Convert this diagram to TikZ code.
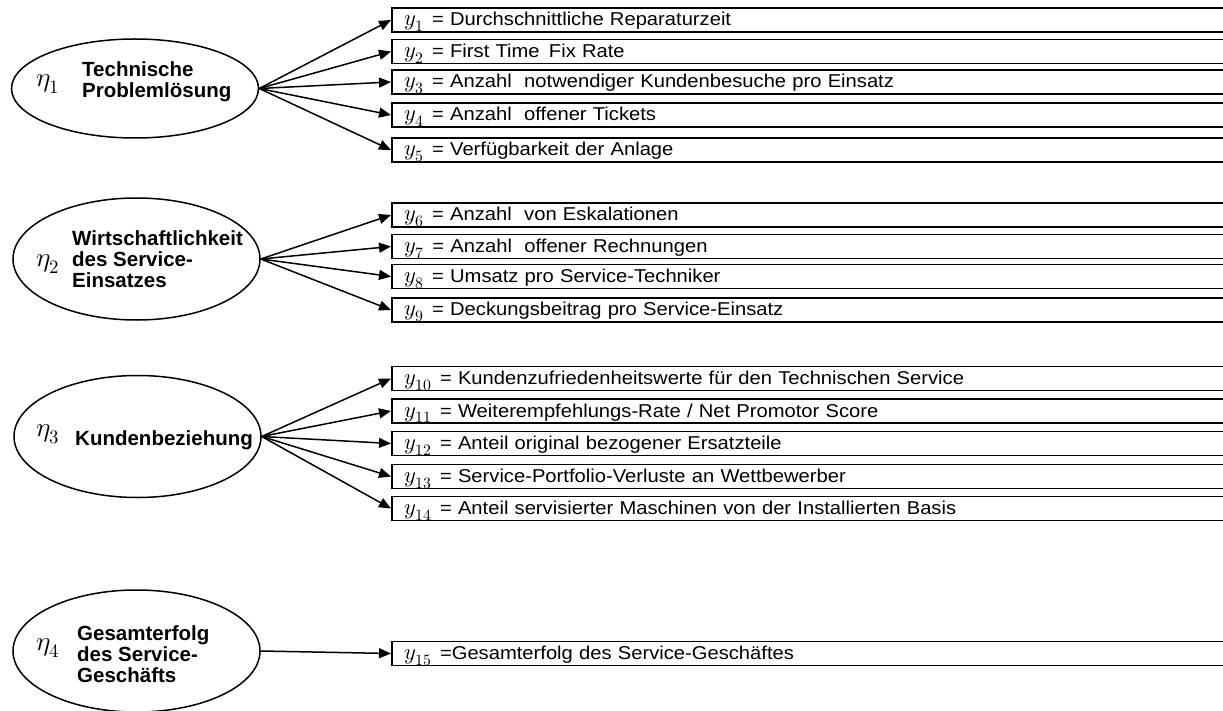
\documentclass[tikz,border=0pt]{standalone}
\usepackage{fontspec}
\usepackage{unicode-math}
\setmainfont{Liberation Sans}
\newfontfamily\itemfont{Liberation Sans}[FakeStretch=1.085]
\setmathfont{Latin Modern Math}
\usetikzlibrary{arrows.meta,shapes.geometric}
% indicator symbol y_n, set a little larger than the running text
\newcommand\yv[1]{{\fontsize{22.5}{22.5}\selectfont$y_{#1}$}\hspace{8pt}}
\begin{document}
\begin{tikzpicture}[x=1pt,y=-1pt,
  latent/.style={draw,line width=1.5pt,ellipse,inner sep=0pt,minimum width=247pt,minimum height=122pt},
  indicator/.style={draw,line width=1.5pt,anchor=west,minimum height=24pt,text width=900pt,
    inner xsep=13pt,inner ysep=0pt,align=left,text height=15pt,text depth=3pt,
    font=\itemfont\fontsize{18.6}{20}\selectfont},
  lbl/.style={anchor=west,align=left,font=\fontsize{20.5}{21}\selectfont\bfseries,inner sep=0pt},
  eta/.style={inner sep=0pt},
  load/.style={line width=1.5pt,-{Triangle[length=12pt,width=10pt]}}]
\useasboundingbox (0,0) rectangle (1223,711);
\clip (0,0) rectangle (1223,711);

% latent constructs
\node[latent,minimum height=99pt] (e1) at (135,88.5) {};
\node[latent] (e2) at (136.5,259) {};
\node[latent] (e3) at (137.5,436.5) {};
\node[latent] (e4) at (136.5,651) {};

\node[eta] (h1) at (48,84) {\fontsize{27}{27}\selectfont$\eta_1$};
\node[eta] (h2) at (48,264) {\fontsize{27}{27}\selectfont$\eta_2$};
\node[eta] (h3) at (48,434) {\fontsize{27}{27}\selectfont$\eta_3$};
\node[eta] (h4) at (48,648) {\fontsize{27}{27}\selectfont$\eta_4$};

\node[lbl] (t1) at (82,82) {Technische\\Problemlösung};
\node[lbl] (t2) at (72,259) {Wirtschaftlichkeit\\des Service-\\Einsatzes};
\node[lbl] (t3) at (75,440) {Kundenbeziehung};
\node[lbl] (t4) at (77,654) {Gesamterfolg\\des Service-\\Geschäfts};

% indicators
\node[indicator] (b1) at (391,20) {\yv{1}= Durchschnittliche Reparaturzeit};
\node[indicator] (b2) at (391,51.5) {\yv{2}= First Time\, Fix Rate};
\node[indicator] (b3) at (391,82) {\yv{3}= Anzahl\ \ notwendiger Kundenbesuche pro Einsatz};
\node[indicator] (b4) at (391,115) {\yv{4}= Anzahl\ \ offener Tickets};
\node[indicator] (b5) at (391,150) {\yv{5}= Verfügbarkeit der Anlage};

\node[indicator] (b6) at (391,215) {\yv{6}= Anzahl\ \ von Eskalationen};
\node[indicator] (b7) at (391,246.5) {\yv{7}= Anzahl\ \ offener Rechnungen};
\node[indicator] (b8) at (391,276.5) {\yv{8}= Umsatz pro Service-Techniker};
\node[indicator] (b9) at (391,310) {\yv{9}= Deckungsbeitrag pro Service-Einsatz};

\node[indicator] (b10) at (391,378.5) {\yv{10}= Kundenzufriedenheitswerte für den Technischen Service};
\node[indicator] (b11) at (391,411) {\yv{11}= Weiterempfehlungs-Rate / Net Promotor Score};
\node[indicator] (b12) at (391,443.5) {\yv{12}= Anteil original bezogener Ersatzteile};
\node[indicator] (b13) at (391,476.5) {\yv{13}= Service-Portfolio-Verluste an Wettbewerber};
\node[indicator] (b14) at (391,508.5) {\yv{14}= Anteil servisierter Maschinen von der Installierten Basis};

\node[indicator] (b15) at (391,653.5) {\yv{15}=Gesamterfolg des Service-Geschäftes};

% loadings
\foreach \b in {1,...,5} \draw[load] (e1.east) -- (b\b.west);
\foreach \b in {6,...,9} \draw[load] (e2.east) -- (b\b.west);
\foreach \b in {10,...,14} \draw[load] (e3.east) -- (b\b.west);
\draw[load] (e4.east) -- (b15.west);
\end{tikzpicture}
\end{document}
